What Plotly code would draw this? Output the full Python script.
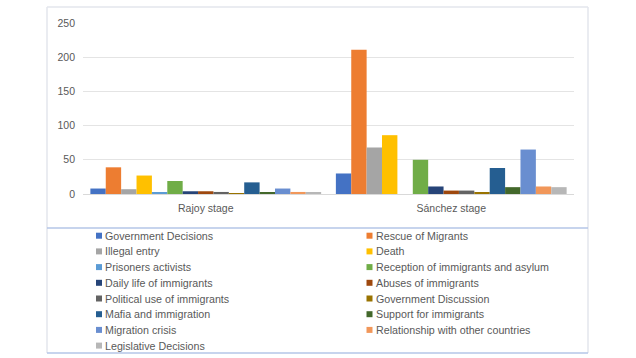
import plotly.graph_objects as go

# ---- data ----
stages = ["Rajoy stage", "Sánchez stage"]
series_names = [
    "Government Decisions", "Rescue of Migrants", "Illegal entry", "Death",
    "Prisoners activists", "Reception of immigrants and asylum",
    "Daily life of immigrants", "Abuses of immigrants",
    "Political use of immigrants", "Government Discussion",
    "Mafia and immigration", "Support for immigrants", "Migration crisis",
    "Relationship with other countries", "Legislative Decisions",
]
rajoy_values = [8, 39, 7, 27, 2, 19, 4, 4, 3, 1, 17, 2, 8, 3, 2]
sanchez_values = [30, 211, 68, 86, 0, 50, 11, 5, 5, 2, 38, 10, 65, 11, 10]
y_ticks = [0, 50, 100, 150, 200, 250]

colors = [
    "#4472C4", "#ED7D31", "#A5A5A5", "#FFC000", "#5B9BD5", "#70AD47",
    "#264478", "#9E480E", "#636363", "#997300", "#255E91", "#43682B",
    "#698ED0", "#F1975A", "#B7B7B7",
]

# ---- layout geometry (pixels) ----
W, H = 636, 358
PL, PR, PT, PB = 83, 574, 23, 194
pw, ph = PR - PL, PB - PT


def px(x):
    return (x - PL) / pw


def py(y):
    return (PB - y) / ph


fig = go.Figure()
for i, name in enumerate(series_names):
    fig.add_trace(go.Bar(
        x=stages, y=[rajoy_values[i], sanchez_values[i]], name=name,
        marker=dict(color=colors[i], line=dict(width=0)),
        showlegend=False,
    ))

shapes = []
annotations = []
border_side = "#E3E6EC"
border_blue = "#B4C6E7"
# outer frame
shapes.append(dict(type="line", xref="paper", yref="paper", x0=px(47), x1=px(588), y0=py(7), y1=py(7), line=dict(color=border_side, width=1.5)))
shapes.append(dict(type="line", xref="paper", yref="paper", x0=px(47), x1=px(47), y0=py(7), y1=py(353), line=dict(color=border_side, width=1.5)))
shapes.append(dict(type="line", xref="paper", yref="paper", x0=px(588), x1=px(588), y0=py(7), y1=py(353), line=dict(color=border_side, width=1.5)))
shapes.append(dict(type="line", xref="paper", yref="paper", x0=px(47), x1=px(588), y0=py(228), y1=py(228), line=dict(color=border_blue, width=1.5)))
shapes.append(dict(type="line", xref="paper", yref="paper", x0=px(47), x1=px(588), y0=py(353), y1=py(353), line=dict(color=border_blue, width=1.5)))

# custom two-column legend
row0, rstep = 235.7, 15.7
col_x = [96, 366.5]
for i, name in enumerate(series_names):
    r, c = divmod(i, 2)
    yc = row0 + r * rstep
    xm = col_x[c]
    shapes.append(dict(type="rect", xref="paper", yref="paper",
                       x0=px(xm), x1=px(xm + 6), y0=py(yc - 3), y1=py(yc + 3),
                       fillcolor=colors[i], line=dict(width=0)))
    annotations.append(dict(xref="paper", yref="paper", x=px(xm + 7), y=py(yc),
                            xanchor="left", yanchor="middle", showarrow=False,
                            text=name, font=dict(size=10.7, color="#595959")))

fig.update_layout(
    width=W, height=H,
    margin=dict(l=PL, r=W - PR, t=PT, b=H - PB, pad=0),
    paper_bgcolor="white", plot_bgcolor="white",
    barmode="group", bargap=0.06, bargroupgap=0,
    font=dict(family="Liberation Sans, Arial, sans-serif", color="#595959", size=10),
    shapes=shapes, annotations=annotations,
    xaxis=dict(showline=True, linecolor="#D9D9D9", linewidth=1, ticks="",
               tickfont=dict(size=10.5, color="#595959"), ticklabelstandoff=4,
               showgrid=False, zeroline=False),
    yaxis=dict(range=[0, 250], tickvals=y_ticks, showgrid=True, gridcolor="#E4E4E4",
               gridwidth=1, zeroline=False, showline=False, ticks="",
               tickfont=dict(size=10.5, color="#595959"), ticklabelstandoff=7),
    showlegend=False,
)

fig.write_html("out.html", config={"displayModeBar": False},
               post_script="document.body.style.margin='0px';")
